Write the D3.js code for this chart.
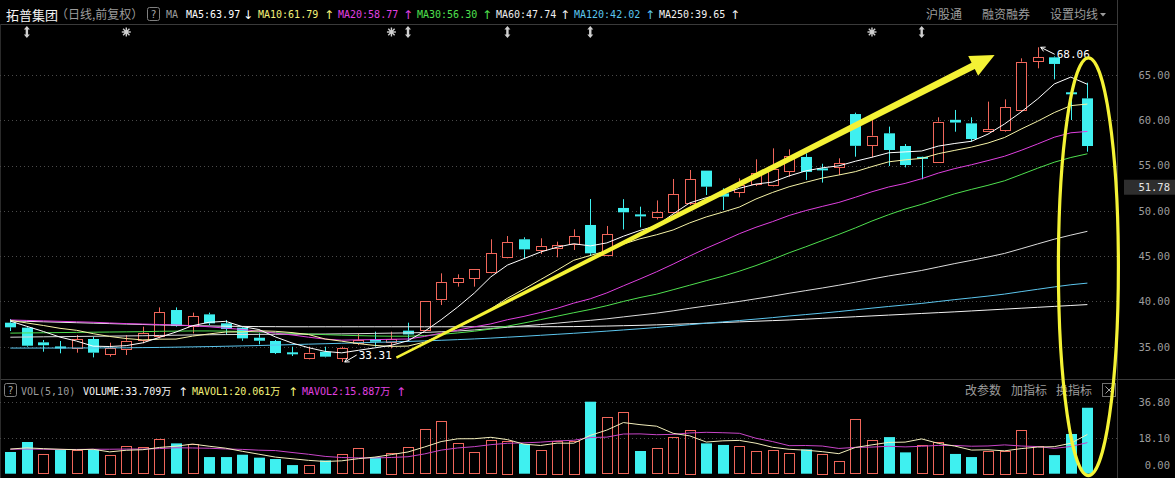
<!DOCTYPE html>
<html><head><meta charset="utf-8">
<script src="https://cdn.jsdelivr.net/npm/d3@7"></script>
<style>html,body{margin:0;padding:0;background:#000;overflow:hidden}svg{display:block}</style>
</head><body><svg id="c" width="1175" height="478"></svg>
<script>
// ---------------- data ----------------
const stockName = "拓普集团";
const opens = [37.65,37.10,35.48,34.92,34.82,35.85,34.27,34.82,35.66,36.10,
 39.05,37.32,38.57,37.58,37.10,35.99,35.63,34.27,33.79,34.45,
 33.71,35.44,35.81,35.44,36.77,36.84,40.23,42.07,42.55,43.17,
 44.87,46.86,45.68,45.86,46.38,48.44,45.05,50.32,49.50,49.29,
 49.82,50.90,54.44,51.93,52.04,53.00,52.78,54.48,55.95,54.58,
 54.88,60.69,57.27,58.56,57.16,55.85,55.43,60.05,59.66,58.78,
 58.85,61.14,66.47,66.95,62.98,62.42];
const highs = [38.06,37.21,35.74,35.63,36.29,36.10,35.44,36.29,37.21,39.34,
 39.34,38.76,38.76,37.95,37.21,36.47,35.74,35.00,35.00,35.00,
 35.00,36.47,36.66,36.66,37.65,40.05,43.10,42.99,43.54,46.86,
 47.22,47.08,46.97,46.60,47.96,51.31,48.33,51.29,50.46,51.15,
 53.52,54.51,54.44,52.49,53.59,55.69,56.90,56.79,56.35,55.20,
 55.80,60.84,60.03,59.30,57.38,55.98,60.33,61.14,60.33,62.06,
 62.31,66.84,68.06,67.05,63.35,64.15];
const lows = [36.73,35.00,34.45,34.27,34.34,33.82,33.90,34.08,35.37,35.92,
 37.21,36.47,37.39,36.36,35.66,35.26,34.19,33.97,33.60,33.82,
 33.31,35.18,35.00,34.82,35.74,36.70,39.60,41.63,41.63,43.10,
 44.76,44.76,45.23,44.87,45.68,45.01,45.01,47.95,48.18,49.05,
 49.72,50.65,51.75,50.09,51.49,52.74,52.70,53.77,53.41,53.12,
 53.96,55.98,55.91,54.95,54.80,53.48,55.43,58.74,57.64,58.74,
 58.74,60.95,65.74,64.52,60.03,56.53];
const closes = [37.14,35.11,35.16,34.89,35.81,34.34,34.89,35.66,36.47,38.79,
 37.28,38.39,37.58,36.95,35.92,35.66,34.30,34.22,34.34,33.90,
 34.82,35.74,35.55,35.81,36.36,40.05,42.11,42.55,43.54,45.31,
 46.52,45.75,46.12,46.23,47.22,45.31,47.41,49.84,49.40,49.84,
 51.82,53.52,52.67,51.57,52.85,54.20,54.60,56.10,54.30,54.55,
 55.28,57.18,58.30,56.72,55.06,55.80,59.85,59.75,57.93,59.00,
 61.43,66.47,66.95,66.22,62.79,57.16];
const volumes = [11.1,16.2,9.9,12.1,11.9,12.3,9.6,14.0,13.5,17.7,
 15.5,15.0,8.5,8.5,9.7,8.2,7.5,4.4,4.3,6.8,
 9.9,13.0,8.4,10.7,13.5,22.7,26.8,15.5,10.9,17.1,
 16.8,15.2,12.1,16.9,16.9,36.8,28.8,31.3,11.6,12.9,
 18.6,22.3,15.5,14.7,14.0,11.4,11.9,10.4,12.4,10.2,
 6.3,27.8,17.0,18.7,10.9,14.5,16.4,10.1,8.5,11.6,
 11.8,22.1,14.1,9.5,20.3,33.709];
const ma5 = [37.83,37.25,36.68,36.06,35.62,35.06,35.02,35.12,35.43,36.03,
 36.62,37.32,37.70,37.80,37.22,36.90,36.08,35.41,34.89,34.48,
 34.32,34.60,34.87,35.16,35.66,36.70,37.98,39.38,40.92,42.71,
 44.01,44.73,45.45,45.99,46.37,46.13,46.46,47.20,47.84,48.36,
 49.66,50.88,51.45,51.88,52.49,52.96,53.18,53.86,54.41,54.75,
 54.97,55.48,55.92,56.41,56.51,56.61,57.15,57.44,57.68,58.47,
 59.59,60.92,62.36,64.01,64.77,63.97];
const ma10 = [37.91,37.62,37.34,37.03,36.81,36.44,36.13,35.90,35.75,35.83,
 35.84,36.17,36.41,36.62,36.63,36.76,36.70,36.56,36.34,35.85,
 35.61,35.34,35.14,35.03,35.07,35.51,36.29,37.12,38.04,39.18,
 40.35,41.36,42.41,43.45,44.54,45.07,45.60,46.33,46.91,47.36,
 47.89,48.67,49.33,49.86,50.42,51.31,52.03,52.66,53.15,53.62,
 53.96,54.33,54.89,55.41,55.63,55.79,56.31,56.68,57.04,57.49,
 58.10,59.03,59.90,60.85,61.62,61.79];
const ma20 = [37.95,37.90,37.85,37.80,37.75,37.70,37.62,37.55,37.50,37.45,
 37.40,37.32,37.20,37.05,36.90,36.70,36.50,36.30,36.05,35.84,
 35.72,35.76,35.78,35.82,35.85,36.13,36.50,36.84,37.19,37.52,
 37.98,38.35,38.78,39.24,39.81,40.29,40.94,41.72,42.48,43.27,
 44.12,45.01,45.87,46.66,47.48,48.19,48.81,49.49,50.03,50.49,
 50.93,51.50,52.11,52.63,53.03,53.55,54.17,54.67,55.09,55.55,
 56.03,56.68,57.39,58.13,58.62,58.77];
const ma30 = [36.50,36.52,36.54,36.56,36.58,36.60,36.62,36.64,36.66,36.70,
 36.72,36.74,36.74,36.72,36.68,36.62,36.55,36.47,36.40,36.33,
 36.27,36.22,36.18,36.16,36.16,36.22,36.36,36.52,36.71,36.95,
 37.27,37.62,37.99,38.37,38.75,39.11,39.53,40.00,40.43,40.80,
 41.29,41.79,42.29,42.78,43.34,43.96,44.64,45.37,46.03,46.72,
 47.40,48.12,48.88,49.57,50.20,50.72,51.31,51.89,52.37,52.82,
 53.32,54.01,54.71,55.37,55.89,56.30];
const ma60 = [36.05,36.07,36.09,36.11,36.13,36.15,36.17,36.19,36.21,36.24,
 36.27,36.30,36.32,36.34,36.35,36.36,36.37,36.38,36.39,36.40,
 36.42,36.44,36.47,36.50,36.52,36.57,36.65,36.74,36.85,36.99,
 37.15,37.30,37.45,37.60,37.77,37.91,38.08,38.29,38.50,38.71,
 38.96,39.24,39.50,39.74,40.00,40.29,40.58,40.90,41.19,41.48,
 41.79,42.12,42.48,42.81,43.11,43.42,43.80,44.18,44.53,44.90,
 45.30,45.82,46.35,46.87,47.32,47.74];
const ma120 = [34.85,34.85,34.85,34.85,34.86,34.86,34.87,34.88,34.90,34.92,
 34.95,34.98,35.01,35.05,35.09,35.13,35.18,35.23,35.28,35.33,
 35.38,35.43,35.48,35.53,35.58,35.64,35.71,35.78,35.86,35.95,
 36.05,36.15,36.26,36.37,36.48,36.60,36.72,36.85,36.98,37.12,
 37.27,37.43,37.59,37.74,37.89,38.05,38.21,38.39,38.55,38.71,
 38.88,39.07,39.26,39.44,39.61,39.78,39.99,40.20,40.39,40.59,
 40.81,41.08,41.34,41.60,41.84,42.02];
const ma250 = [37.85,37.80,37.75,37.70,37.65,37.60,37.55,37.50,37.45,37.40,
 37.36,37.32,37.29,37.26,37.24,37.22,37.21,37.20,37.20,37.20,
 37.20,37.20,37.20,37.20,37.20,37.20,37.20,37.20,37.20,37.20,
 37.20,37.20,37.21,37.21,37.22,37.25,37.28,37.32,37.36,37.41,
 37.47,37.53,37.60,37.67,37.74,37.81,37.88,37.95,38.04,38.13,
 38.22,38.31,38.40,38.49,38.58,38.67,38.76,38.85,38.95,39.05,
 39.15,39.25,39.35,39.45,39.55,39.65];
const mavol1 = [12.6,13.2,12.8,12.5,12.24,12.48,11.16,11.98,12.26,13.42,
 14.06,15.14,14.04,13.04,11.44,9.98,8.48,7.66,6.82,6.24,
 6.58,7.68,8.48,9.76,11.10,13.66,16.42,17.84,17.88,18.60,
 17.42,15.10,14.42,15.62,15.58,19.58,22.30,26.14,25.08,24.28,
 20.64,19.34,16.18,16.80,17.02,15.58,13.50,12.48,12.02,11.26,
 10.24,13.42,14.74,16.00,16.14,17.78,15.50,14.12,12.08,12.22,
 11.68,12.82,13.62,13.82,15.56,20.061];
const mavol2 = [12.5,12.6,12.5,12.4,12.4,12.5,12.5,12.6,12.6,12.83,
 13.27,13.15,13.01,12.65,12.43,12.02,11.81,10.85,9.93,8.84,
 8.28,8.08,8.07,8.29,8.67,10.12,12.05,13.16,13.82,14.85,
 15.54,15.76,16.13,16.75,17.09,18.50,18.70,20.28,20.35,19.93,
 20.11,20.82,21.16,20.94,20.65,18.11,16.42,14.33,14.41,14.14,
 12.91,13.46,13.61,14.01,13.70,14.01,14.46,14.43,14.04,14.18,
 14.73,14.16,13.87,12.95,13.89,15.887];
const priceTicks = [35, 40, 45, 50, 55, 60, 65];
const volTicks = [0, 18.10, 36.80];
const cursorPrice = 51.78;
const starMarks = [7, 23, 52];
const arrowMarks = [1, 24, 30, 35, 55];
const topMenu = ["沪股通", "融资融券", "设置均线"];
const volMenu = ["改参数", "加指标", "换指标"];

// ---------------- setup ----------------
const svg = d3.select("#c");
const MONO = "'DejaVu Sans Mono','Liberation Mono',monospace";
const CJK = "'Noto Sans CJK SC','Noto Sans',sans-serif";
const RED = "#f0665a", CYAN = "#3ff0f0", GRID = "#4a4a4a", LINE = "#3a3a3a", GREY = "#9c9c9c";
const YEL = "#f4f235";
const n = closes.length;
const x = d3.scaleLinear().domain([0, n - 1]).range([10.3, 1087.4]);
const y = d3.scaleLinear().domain([35, 65]).range([346.7, 75]);
const vy = d3.scaleLinear().domain([0, 36.8]).range([473.7, 401.7]);
const AXR = 1117;

svg.append("rect").attr("width", 1175).attr("height", 478).attr("fill", "#000");

// frame lines
svg.append("line").attr("x1", 0).attr("x2", AXR).attr("y1", 24.5).attr("y2", 24.5).attr("stroke", LINE);
svg.append("line").attr("x1", 0).attr("x2", 1175).attr("y1", 379.5).attr("y2", 379.5).attr("stroke", LINE);
svg.append("line").attr("x1", AXR + 0.5).attr("x2", AXR + 0.5).attr("y1", 0).attr("y2", 478).attr("stroke", LINE);
svg.append("line").attr("x1", 0.5).attr("x2", 0.5).attr("y1", 24).attr("y2", 478).attr("stroke", "#2a2a2a");

// grid
svg.append("g").selectAll("line").data(priceTicks).join("line")
  .attr("x1", 0).attr("x2", AXR).attr("y1", d => Math.round(y(d)) + 0.5).attr("y2", d => Math.round(y(d)) + 0.5)
  .attr("stroke", GRID).attr("stroke-dasharray", "1,3");
svg.append("g").selectAll("line").data(volTicks.filter(d => d > 0)).join("line")
  .attr("x1", 0).attr("x2", AXR).attr("y1", d => Math.round(vy(d)) + 0.5).attr("y2", d => Math.round(vy(d)) + 0.5)
  .attr("stroke", GRID).attr("stroke-dasharray", "1,3");

// axes
const pa = svg.append("g").attr("transform", "translate(1170,0)")
  .call(d3.axisLeft(y).tickValues(priceTicks).tickSize(0).tickPadding(0).tickFormat(d3.format(".2f")));
pa.select(".domain").remove();
pa.selectAll("text").attr("fill", GREY).attr("font-family", MONO).attr("font-size", 10.5);
const va = svg.append("g").attr("transform", "translate(1170,0)")
  .call(d3.axisLeft(vy).tickValues(volTicks).tickSize(0).tickPadding(0).tickFormat(d3.format(".2f")));
va.select(".domain").remove();
va.selectAll("text").attr("fill", GREY).attr("font-family", MONO).attr("font-size", 10.5)
  .attr("dy", d => d === 0 ? "-0.45em" : "0.32em");

// cursor price label
const cyP = y(cursorPrice);
svg.append("rect").attr("x", 1124).attr("y", cyP - 15).attr("width", 51).attr("height", 15).attr("fill", "#2e2e2e");
svg.append("text").attr("x", 1170).attr("y", cyP - 4).attr("text-anchor", "end").attr("fill", "#e6e6e6")
  .attr("font-family", MONO).attr("font-size", 10.5).text(cursorPrice.toFixed(2));

// ---------------- candles ----------------
const idx = d3.range(n);
const cg = svg.append("g");
const isUp = i => closes[i] >= opens[i];
const colOf = i => isUp(i) ? RED : CYAN;
const bodyTop = i => y(Math.max(opens[i], closes[i]));
const bodyBot = i => y(Math.min(opens[i], closes[i]));
const cxOf = i => Math.round(x(i)) + 0.5;
cg.selectAll(".wu").data(idx).join("line").attr("class", "wu")
  .attr("x1", cxOf).attr("x2", cxOf).attr("y1", i => y(highs[i])).attr("y2", bodyTop)
  .attr("stroke", colOf).attr("stroke-width", 1);
cg.selectAll(".wd").data(idx).join("line").attr("class", "wd")
  .attr("x1", cxOf).attr("x2", cxOf).attr("y1", bodyBot).attr("y2", i => y(lows[i]))
  .attr("stroke", colOf).attr("stroke-width", 1);
cg.selectAll(".bu").data(idx.filter(isUp)).join("rect").attr("class", "bu")
  .attr("x", i => cxOf(i) - 5).attr("width", 10)
  .attr("y", i => Math.round(bodyTop(i)) + 0.5)
  .attr("height", i => Math.max(1, Math.round(bodyBot(i) - bodyTop(i))))
  .attr("fill", "#000").attr("stroke", RED).attr("stroke-width", 1);
cg.selectAll(".bd").data(idx.filter(i => !isUp(i))).join("rect").attr("class", "bd")
  .attr("x", i => cxOf(i) - 5.5).attr("width", 11)
  .attr("y", i => bodyTop(i) - (bodyBot(i) - bodyTop(i) < 2 ? 1 : 0))
  .attr("height", i => Math.max(2, bodyBot(i) - bodyTop(i)))
  .attr("fill", CYAN);

// ---------------- MA lines ----------------
const maDefs = [
  {name: "MA250", data: ma250, color: "#f2f2f2"},
  {name: "MA120", data: ma120, color: "#5cc6ee"},
  {name: "MA60", data: ma60, color: "#dcdcdc"},
  {name: "MA30", data: ma30, color: "#4fe04f"},
  {name: "MA20", data: ma20, color: "#e040e0"},
  {name: "MA10", data: ma10, color: "#f6f3a6"},
  {name: "MA5", data: ma5, color: "#ffffff"}
];
const line = d3.line().x((d, i) => x(i)).y(d => y(d));
svg.append("g").selectAll("path").data(maDefs).join("path")
  .attr("d", d => line(d.data)).attr("fill", "none").attr("stroke", d => d.color).attr("stroke-width", 1);

// high/low labels
function markLabel(i, val, tx, ty) {
  const px = x(i) + 3, py = y(val);
  svg.append("line").attr("x1", tx - 2).attr("y1", ty - 4).attr("x2", px).attr("y2", py)
    .attr("stroke", "#fff").attr("stroke-width", 1);
  const ang = Math.atan2(py - (ty - 4), px - (tx - 2));
  const a1 = ang + Math.PI - 0.5, a2 = ang + Math.PI + 0.5;
  svg.append("path").attr("d", `M${px},${py}L${px + 5 * Math.cos(a1)},${py + 5 * Math.sin(a1)}M${px},${py}L${px + 5 * Math.cos(a2)},${py + 5 * Math.sin(a2)}`)
    .attr("stroke", "#fff").attr("fill", "none");
  svg.append("text").attr("x", tx).attr("y", ty).attr("fill", "#fff").attr("font-family", MONO).attr("font-size", 11)
    .text(val.toFixed(2));
}
const loI = d3.minIndex(lows), hiI = d3.maxIndex(highs);
markLabel(loI, lows[loI], x(loI) + 17, y(lows[loI]) - 3);
markLabel(hiI, highs[hiI], x(hiI) + 19, y(highs[hiI]) + 11);

// info markers row
const mk = svg.append("g").attr("fill", "#cfcfcf").attr("stroke", "#cfcfcf");
starMarks.forEach(i => {
  const cx = x(i), cy = 32;
  for (let k = 0; k < 4; k++) {
    const a = k * Math.PI / 4;
    mk.append("line").attr("x1", cx - 4.5 * Math.cos(a)).attr("y1", cy - 4.5 * Math.sin(a))
      .attr("x2", cx + 4.5 * Math.cos(a)).attr("y2", cy + 4.5 * Math.sin(a)).attr("stroke-width", 1.4);
  }
  mk.append("circle").attr("cx", cx).attr("cy", cy).attr("r", 2).attr("stroke", "none");
});
arrowMarks.forEach(i => {
  const cx = x(i), cy = 32;
  mk.append("path").attr("stroke", "none")
    .attr("d", `M${cx},${cy - 6}L${cx + 3},${cy - 2.5}L${cx + 1.2},${cy - 2.5}L${cx + 1.2},${cy + 2.5}L${cx + 3},${cy + 2.5}L${cx},${cy + 6}L${cx - 3},${cy + 2.5}L${cx - 1.2},${cy + 2.5}L${cx - 1.2},${cy - 2.5}L${cx - 3},${cy - 2.5}Z`);
});

// ---------------- volume ----------------
const volUp = i => i === 0 ? isUp(0) : closes[i] >= closes[i - 1];
const vg = svg.append("g");
vg.selectAll(".vu").data(idx.filter(volUp)).join("rect").attr("class", "vu")
  .attr("x", i => cxOf(i) - 5).attr("width", 10)
  .attr("y", i => Math.round(vy(volumes[i])) + 0.5)
  .attr("height", i => Math.round(vy(0) - vy(volumes[i])))
  .attr("fill", "none").attr("stroke", RED);
vg.selectAll(".vd").data(idx.filter(i => !volUp(i))).join("rect").attr("class", "vd")
  .attr("x", i => cxOf(i) - 5.5).attr("width", 11)
  .attr("y", i => vy(volumes[i])).attr("height", i => vy(0) - vy(volumes[i]))
  .attr("fill", CYAN);
const vline = d3.line().x((d, i) => x(i)).y(d => vy(d));
svg.append("path").attr("d", vline(mavol2)).attr("fill", "none").attr("stroke", "#c845c8").attr("stroke-width", 1);
svg.append("path").attr("d", vline(mavol1)).attr("fill", "none").attr("stroke", "#f3eebc").attr("stroke-width", 1);

// ---------------- header texts ----------------
function txt(t, xx, yy, color, fam, size, anchor) {
  return svg.append("text").attr("x", xx).attr("y", yy).attr("fill", color).attr("font-family", fam)
    .attr("font-size", size).attr("text-anchor", anchor || "start").text(t);
}
function qbox(xx, yy) {
  svg.append("rect").attr("x", xx + 0.5).attr("y", yy + 0.5).attr("width", 12).attr("height", 13).attr("rx", 2)
    .attr("fill", "none").attr("stroke", "#808080");
  txt("?", xx + 6.5, yy + 10.5, "#a8a8a8", MONO, 10, "middle");
}
txt(stockName, 6, 19.5, "#f4f4f4", CJK, 13);
txt("（日线,前复权）", 56, 19, GREY, CJK, 12);
qbox(147, 7);
txt("MA", 166, 18, GREY, MONO, 10);
const headerPos = {MA5: [186, 248], MA10: [258, 329], MA20: [338, 408], MA30: [417, 487], MA60: [496, 565], MA120: [574, 650], MA250: [659, 735]};
const headerColor = {MA5: "#ffffff", MA10: "#f4f27a", MA20: "#e040e0", MA30: "#4fe04f", MA60: "#eeeeee", MA120: "#5cc6ee", MA250: "#f2f2f2"};
maDefs.slice().reverse().forEach(d => {
  const arr = d.data, last = arr[arr.length - 1], prev = arr[arr.length - 2];
  const p = headerPos[d.name], c = headerColor[d.name];
  txt(`${d.name}:${last.toFixed(2)}`, p[0], 18, c, MONO, 10);
  txt(last >= prev ? "↑" : "↓", p[1], 19, c, "'DejaVu Sans',sans-serif", 12, "middle");
});
const menuX = [926, 982, 1050];
topMenu.forEach((t, k) => txt(t, menuX[k], 19, GREY, CJK, 12));
svg.append("path").attr("d", "M1100,13L1106,13L1103,16.5Z").attr("fill", GREY);

// volume header
qbox(4, 383);
txt("VOL(5,10)", 21, 394.5, GREY, MONO, 10);
const vLast = volumes[n - 1], m1 = mavol1[n - 1], m2 = mavol2[n - 1];
const volHdr = [
  {t: `VOLUME:${vLast.toFixed(3)}万`, x: 83, ax: 183, c: "#f4f4f4", up: vLast >= volumes[n - 2]},
  {t: `MAVOL1:${m1.toFixed(3)}万`, x: 192, ax: 293, c: "#f4f27a", up: m1 >= mavol1[n - 2]},
  {t: `MAVOL2:${m2.toFixed(3)}万`, x: 302, ax: 401, c: "#e040e0", up: m2 >= mavol2[n - 2]}
];
volHdr.forEach(h => {
  txt(h.t, h.x, 394.5, h.c, MONO + ",'Noto Sans CJK SC'", 10);
  txt(h.up ? "↑" : "↓", h.ax, 395.5, h.c, "'DejaVu Sans',sans-serif", 12, "middle");
});
const vmX = [965, 1011, 1056];
volMenu.forEach((t, k) => txt(t, vmX[k], 395, GREY, CJK, 12));
svg.append("rect").attr("x", 1102.5).attr("y", 383.5).attr("width", 13).attr("height", 13).attr("fill", "none").attr("stroke", "#707070");
svg.append("path").attr("d", "M1105.5,386.5L1112.5,393.5M1112.5,386.5L1105.5,393.5").attr("stroke", "#a0a0a0");

// ---------------- annotations ----------------
const S = [x(23.3), y(33.8)], T = [x(59.4), y(67.2)];
const dx = T[0] - S[0], dy = T[1] - S[1], L = Math.hypot(dx, dy);
const u = [dx / L, dy / L], nn = [-u[1], u[0]];
const headLen = 24, headW = 11;
const B = [T[0] - headLen * u[0], T[1] - headLen * u[1]];
const w0 = 1.2, w1 = 3.6;
const arrowPts = [
  [S[0] + w0 * nn[0], S[1] + w0 * nn[1]],
  [B[0] + w1 * nn[0], B[1] + w1 * nn[1]],
  [B[0] + headW * nn[0], B[1] + headW * nn[1]],
  T,
  [B[0] - headW * nn[0], B[1] - headW * nn[1]],
  [B[0] - w1 * nn[0], B[1] - w1 * nn[1]],
  [S[0] - w0 * nn[0], S[1] - w0 * nn[1]]
];
svg.append("path").attr("d", d3.line()(arrowPts) + "Z").attr("fill", YEL);

const eTop = y(66.9), eBot = vy(0) + 2;
svg.append("ellipse").attr("cx", x(n - 1) + 1).attr("cy", (eTop + eBot) / 2)
  .attr("rx", 30).attr("ry", (eBot - eTop) / 2)
  .attr("fill", "none").attr("stroke", YEL).attr("stroke-width", 3.2);
</script>
</body></html>
